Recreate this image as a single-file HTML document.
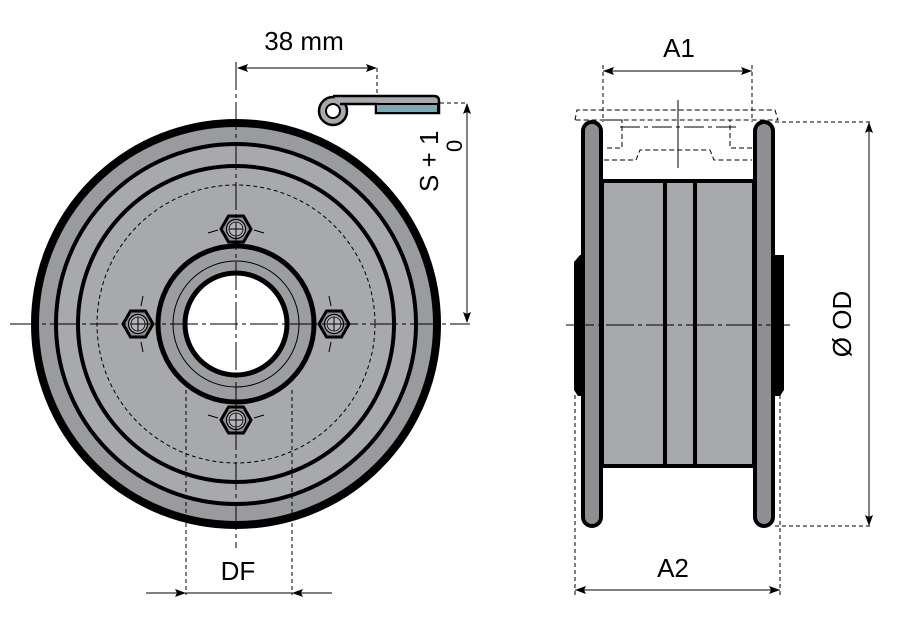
<!DOCTYPE html>
<html><head><meta charset="utf-8"><style>
html,body{margin:0;padding:0;background:#fff;}
svg{display:block;}
text{font-family:"Liberation Sans",sans-serif;fill:#000;}
</style></head><body>
<svg width="906" height="620" viewBox="0 0 906 620" xmlns="http://www.w3.org/2000/svg">
<defs>
<g id="nut">
<polygon points="15,0 7.5,13 -7.5,13 -15,0 -7.5,-13 7.5,-13" fill="#8e8f93" stroke="#000" stroke-width="3"/>
<circle r="9.5" fill="#b5b6ba" stroke="#000" stroke-width="1.2"/>
<circle r="7" fill="none" stroke="#000" stroke-width="0.8"/>
<line x1="-7" y1="0" x2="7" y2="0" stroke="#000" stroke-width="1"/>
<line x1="0" y1="-7" x2="0" y2="7" stroke="#000" stroke-width="1"/>
</g>
</defs>
<!-- LEFT VIEW -->
<circle cx="236" cy="324" r="201" fill="#9a9b9f" stroke="#000" stroke-width="8"/>
<circle cx="236" cy="324" r="180" fill="#a8a9ad" stroke="#000" stroke-width="4"/>
<circle cx="236" cy="324" r="158" fill="#a8a9ad" stroke="#000" stroke-width="4"/>
<circle cx="236" cy="324" r="139" fill="none" stroke="#000" stroke-width="1" stroke-dasharray="4,3"/>
<circle cx="236" cy="324" r="78" fill="#9c9da1" stroke="#000" stroke-width="5"/>
<circle cx="236" cy="324" r="63" fill="none" stroke="#000" stroke-width="1"/>
<circle cx="236" cy="324" r="51" fill="#fff" stroke="#000" stroke-width="5"/>
<!-- bolt circle ticks -->
<g stroke="#000" stroke-width="1">
<line x1="208" y1="233" x2="218" y2="230"/><line x1="254" y1="230" x2="264" y2="233"/>
<line x1="208" y1="415" x2="218" y2="418"/><line x1="254" y1="418" x2="264" y2="415"/>
<line x1="143" y1="296" x2="141" y2="306"/><line x1="141" y1="342" x2="143" y2="352"/>
<line x1="329" y1="296" x2="331" y2="306"/><line x1="331" y1="342" x2="329" y2="352"/>
</g>
<use href="#nut" x="236" y="229"/>
<use href="#nut" x="236" y="420"/>
<use href="#nut" x="138" y="324"/>
<use href="#nut" x="334" y="324"/>
<!-- center lines -->
<line x1="236" y1="62" x2="236" y2="548" stroke="#000" stroke-width="1" stroke-dasharray="28,4,4,4"/>
<line x1="10" y1="324" x2="470" y2="324" stroke="#000" stroke-width="1" stroke-dasharray="28,4,4,4"/>
<!-- 38mm dim -->
<line x1="238" y1="68" x2="376" y2="68" stroke="#000" stroke-width="1"/>
<polygon points="237,68 248,64 246,68 248,72" fill="#000"/>
<polygon points="377,68 366,64 368,68 366,72" fill="#000"/>
<line x1="377" y1="68" x2="377" y2="100" stroke="#000" stroke-width="1" stroke-dasharray="4,3"/>
<text x="304" y="50" font-size="26" text-anchor="middle">38 mm</text>
<!-- clip -->
<circle cx="333" cy="111" r="14" fill="#a8a9ad" stroke="#000" stroke-width="2.5"/>
<circle cx="333" cy="111" r="7" fill="#fff" stroke="#000" stroke-width="2"/>
<path d="M333,96 L434,96 Q439,96 439,101 L439,113 L376,113 L376,104 L340,104" fill="#a8a9ad" stroke="#000" stroke-width="2.5"/>
<rect x="376" y="104" width="62" height="9" fill="#7aaab8" stroke="#000" stroke-width="2"/>
<line x1="440" y1="103" x2="468" y2="103" stroke="#000" stroke-width="1" stroke-dasharray="4,3"/>
<line x1="467" y1="104" x2="467" y2="322" stroke="#000" stroke-width="1"/>
<polygon points="467,103 463,114 467,112 471,114" fill="#000"/>
<polygon points="467,323 463,312 467,314 471,312" fill="#000"/>
<text transform="translate(438,192) rotate(-90)" font-size="26">S + 1</text>
<text transform="translate(462,152) rotate(-90)" font-size="22">0</text>
<!-- DF -->
<line x1="186" y1="390" x2="186" y2="595" stroke="#000" stroke-width="1" stroke-dasharray="4,3"/>
<line x1="292" y1="390" x2="292" y2="595" stroke="#000" stroke-width="1" stroke-dasharray="4,3"/>
<line x1="146" y1="593" x2="332" y2="593" stroke="#000" stroke-width="1"/>
<polygon points="186,593 175,589 177,593 175,597" fill="#000"/>
<polygon points="292,593 303,589 301,593 303,597" fill="#000"/>
<text x="238" y="580" font-size="26" text-anchor="middle">DF</text>
<!-- RIGHT VIEW -->
<path d="M580,255 L784,255 L784,390 L780,396 L578,396 L574,390 L574,262 Z" fill="#000"/>
<rect x="602" y="181" width="152" height="285" fill="#a8a9ad" stroke="#000" stroke-width="4"/>
<line x1="665" y1="181" x2="665" y2="466" stroke="#000" stroke-width="4"/>
<line x1="695" y1="181" x2="695" y2="466" stroke="#000" stroke-width="4"/>
<rect x="583" y="122" width="18" height="404" rx="9" fill="#8e8f93" stroke="#000" stroke-width="4"/>
<rect x="755" y="122" width="18" height="404" rx="9" fill="#8e8f93" stroke="#000" stroke-width="4"/>
<!-- dashed ghost -->
<path d="M575,120 L577,110 L775,110 L778,120 L575,120 M604,120 L622,120 L622,148 L604,148 M604,160 L636,160 L640,150 L710,150 L714,160 L752,160 M752,148 L730,148 L730,120" fill="none" stroke="#000" stroke-width="1" stroke-dasharray="5,3"/>
<line x1="678" y1="100" x2="678" y2="168" stroke="#000" stroke-width="1"/>
<line x1="620" y1="127" x2="740" y2="127" stroke="#000" stroke-width="1" stroke-dasharray="20,4,4,4"/>
<line x1="566" y1="325" x2="790" y2="325" stroke="#000" stroke-width="1" stroke-dasharray="28,4,4,4"/>
<!-- A1 -->
<line x1="603" y1="65" x2="603" y2="122" stroke="#000" stroke-width="1" stroke-dasharray="4,3"/>
<line x1="752" y1="65" x2="752" y2="122" stroke="#000" stroke-width="1" stroke-dasharray="4,3"/>
<line x1="603" y1="71" x2="752" y2="71" stroke="#000" stroke-width="1"/>
<polygon points="603,71 614,67 612,71 614,75" fill="#000"/>
<polygon points="752,71 741,67 743,71 741,75" fill="#000"/>
<text x="679" y="57" font-size="26" text-anchor="middle">A1</text>
<!-- A2 -->
<line x1="575" y1="395" x2="575" y2="595" stroke="#000" stroke-width="1" stroke-dasharray="4,3"/>
<line x1="780" y1="395" x2="780" y2="595" stroke="#000" stroke-width="1" stroke-dasharray="4,3"/>
<line x1="575" y1="590" x2="780" y2="590" stroke="#000" stroke-width="1"/>
<polygon points="575,590 586,586 584,590 586,594" fill="#000"/>
<polygon points="780,590 769,586 771,590 769,594" fill="#000"/>
<text x="673" y="577" font-size="26" text-anchor="middle">A2</text>
<!-- OD -->
<line x1="775" y1="122" x2="870" y2="122" stroke="#000" stroke-width="1" stroke-dasharray="4,3"/>
<line x1="775" y1="526" x2="870" y2="526" stroke="#000" stroke-width="1" stroke-dasharray="4,3"/>
<line x1="869" y1="123" x2="869" y2="525" stroke="#000" stroke-width="1"/>
<polygon points="869,122 865,133 869,131 873,133" fill="#000"/>
<polygon points="869,526 865,515 869,517 873,515" fill="#000"/>
<text transform="translate(851,324) rotate(-90)" font-size="26" text-anchor="middle">Ø OD</text>
</svg>
</body></html>
